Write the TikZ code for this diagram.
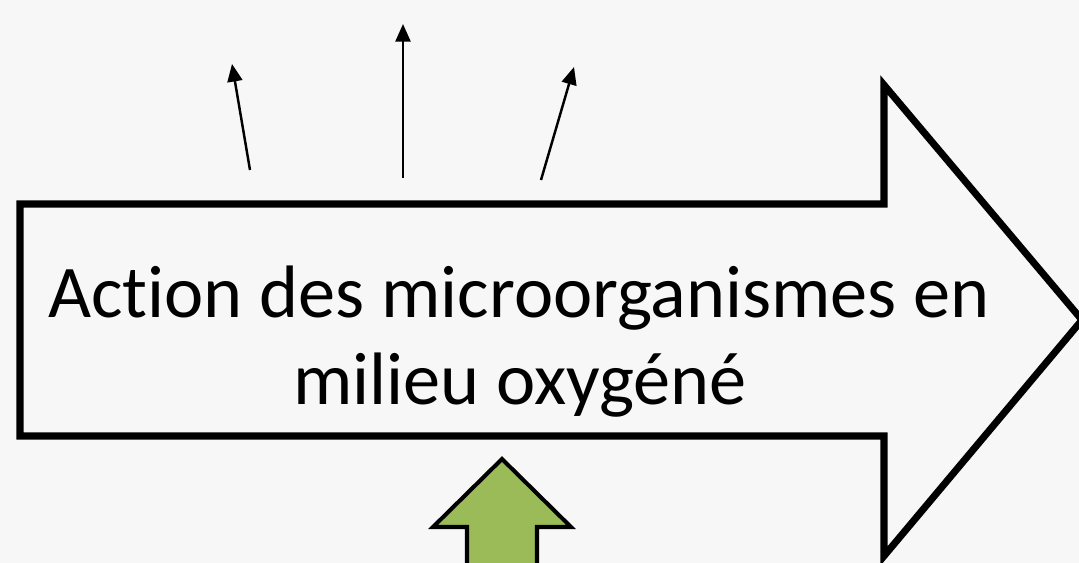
\documentclass[tikz,border=0pt]{standalone}
\usepackage{fontspec}
\setmainfont{Carlito}[Ligatures=NoCommon]
\usetikzlibrary{arrows.meta}
\definecolor{fond}{RGB}{247,247,247}
\definecolor{vertfeuille}{RGB}{155,187,89}
\tikzset{
  grandefleche/.style={draw=black, fill=fond, line width=4pt, miter limit=20},
  petitefleche/.style={line width=1.4pt, -{Triangle[length=10pt,width=8.5pt]}},
  flecheverte/.style={draw=black, fill=vertfeuille, line width=2.3pt, miter limit=20},
  titre/.style={anchor=base, inner sep=0pt, font=\fontsize{42.3}{50}\selectfont}
}
\begin{document}
\begin{tikzpicture}[x=0.02cm, y=-0.02cm]
  % fond
  \fill[fond] (0,0) rectangle (1079,563);
  \useasboundingbox (0,0) rectangle (1079,563);
  % grande fleche vers la droite
  \draw[grandefleche] (20,204) -- (884,204) -- (884,85) -- (1082,320)
    -- (884,556) -- (884,436) -- (20,436) -- cycle;
  \node[titre] (ligne1) at (519,318) {Action des microorganismes en};
  \node[titre] (ligne2) at (520,405) {milieu oxygéné};
  % fleches qui partent vers le haut
  \coordinate (d1) at (250,170);
  \coordinate (a1) at (232,64);
  \coordinate (d2) at (403,178);
  \coordinate (a2) at (403,24);
  \coordinate (d3) at (541,180);
  \coordinate (a3) at (574,67);
  \draw[petitefleche] (d1) -- (a1);
  \draw[petitefleche] (d2) -- (a2);
  \draw[petitefleche] (d3) -- (a3);
  % fleche verte en bas
  \draw[flecheverte] (502,459) -- (571,527) -- (537,527) -- (537,580)
    -- (467,580) -- (467,527) -- (433,527) -- cycle;
\end{tikzpicture}
\end{document}
